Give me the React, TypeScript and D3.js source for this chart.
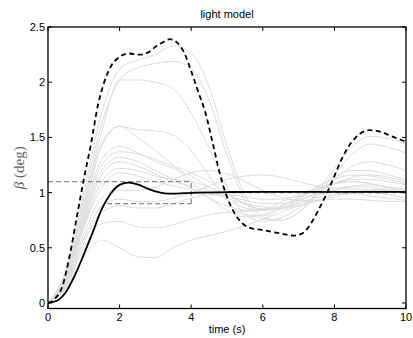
import React from "react";
import * as d3 from "d3";

const W = 413;
const H = 338;

const titleText = "light model";
const xLabelText = "time (s)";
const xTicks = [0, 2, 4, 6, 8, 10];
const yTicks = [0, 0.5, 1, 1.5, 2, 2.5];
const yTickLabels = ["0", "0.5", "1", "1.5", "2", "2.5"];

// common time grid for the grey (perturbed) responses
const tGrid = [0, 0.5, 1, 1.5, 2, 2.5, 3, 3.5, 4, 4.5, 5, 5.5, 6, 6.5, 7, 7.5, 8, 8.5, 9, 9.5, 10];

const g1 = [0, 0.30, 1.0, 1.72, 2.12, 2.20, 2.25, 2.33, 2.26, 1.96, 1.42, 0.98, 0.78, 0.75, 0.82, 1.0, 1.22, 1.42, 1.51, 1.49, 1.44];
const g2 = [0, 0.28, 0.95, 1.62, 2.02, 2.13, 2.17, 2.19, 2.12, 1.84, 1.34, 0.93, 0.76, 0.75, 0.82, 0.97, 1.16, 1.35, 1.44, 1.41, 1.36];
const g3 = [0, 0.26, 0.90, 1.55, 2.02, 2.02, 2.0, 1.94, 1.72, 1.40, 1.05, 0.80, 0.74, 0.77, 0.86, 0.98, 1.12, 1.24, 1.28, 1.25, 1.2];
const g4 = [0, 0.24, 0.84, 1.42, 1.6, 1.57, 1.56, 1.52, 1.38, 1.15, 0.93, 0.8, 0.79, 0.85, 0.94, 1.04, 1.14, 1.2, 1.2, 1.16, 1.12];
const g5 = [0, 0.24, 0.85, 1.45, 1.6, 1.5, 1.38, 1.25, 1.1, 0.95, 0.84, 0.78, 0.8, 0.87, 0.96, 1.05, 1.12, 1.16, 1.15, 1.12, 1.08];
const g6 = [0, 0.22, 0.80, 1.30, 1.42, 1.36, 1.28, 1.22, 1.15, 1.05, 0.94, 0.86, 0.84, 0.88, 0.95, 1.02, 1.08, 1.12, 1.12, 1.1, 1.07];
const g7 = [0, 0.21, 0.78, 1.25, 1.37, 1.35, 1.3, 1.24, 1.18, 1.1, 1.0, 0.9, 0.85, 0.86, 0.92, 1.0, 1.08, 1.14, 1.16, 1.14, 1.1];
const g8 = [0, 0.20, 0.75, 1.2, 1.32, 1.28, 1.2, 1.12, 1.04, 0.95, 0.88, 0.84, 0.85, 0.91, 0.98, 1.04, 1.08, 1.1, 1.08, 1.05, 1.02];
const g9 = [0, 0.20, 0.72, 1.16, 1.28, 1.24, 1.17, 1.1, 1.06, 1.02, 0.97, 0.93, 0.9, 0.9, 0.93, 0.98, 1.03, 1.06, 1.07, 1.05, 1.03];
const g10 = [0, 0.19, 0.70, 1.1, 1.22, 1.2, 1.15, 1.12, 1.1, 1.05, 0.98, 0.9, 0.85, 0.85, 0.9, 0.96, 1.02, 1.05, 1.05, 1.02, 0.99];
const g11 = [0, 0.18, 0.68, 1.05, 1.18, 1.15, 1.1, 1.06, 1.03, 1.0, 0.95, 0.9, 0.87, 0.86, 0.88, 0.93, 0.98, 1.0, 1.0, 0.98, 0.95];
const g12 = [0, 0.17, 0.62, 0.95, 1.02, 1.02, 1.05, 1.12, 1.18, 1.2, 1.17, 1.1, 1.02, 0.96, 0.93, 0.93, 0.96, 1.0, 1.02, 1.02, 1.0];
const g13 = [0, 0.16, 0.58, 0.88, 0.94, 0.92, 0.92, 0.95, 1.0, 1.06, 1.12, 1.15, 1.16, 1.14, 1.1, 1.06, 1.04, 1.03, 1.03, 1.02, 1.01];
const g14 = [0, 0.15, 0.55, 0.82, 0.88, 0.86, 0.86, 0.9, 0.95, 0.98, 0.98, 0.96, 0.94, 0.94, 0.97, 1.02, 1.08, 1.1, 1.08, 1.04, 1.0];
const g15 = [0, 0.14, 0.50, 0.72, 0.74, 0.69, 0.68, 0.71, 0.76, 0.8, 0.82, 0.83, 0.84, 0.86, 0.9, 0.95, 0.98, 0.99, 0.97, 0.95, 0.93];
const g16 = [0, 0.13, 0.42, 0.57, 0.5, 0.42, 0.41, 0.5, 0.57, 0.61, 0.65, 0.7, 0.76, 0.82, 0.88, 0.92, 0.94, 0.94, 0.93, 0.92, 0.92];
const greySeries = [g1, g2, g3, g4, g5, g6, g7, g8, g9, g10, g11, g12, g13, g14, g15, g16];

// nominal response (black solid)
const tNominal = [0, 0.25, 0.5, 0.75, 1, 1.25, 1.5, 1.75, 2, 2.25, 2.5, 2.75, 3, 3.25, 3.5, 4, 5, 6, 7, 8, 9, 10];
const nominal = [0, 0.02, 0.1, 0.25, 0.44, 0.64, 0.85, 0.99, 1.07, 1.09, 1.075, 1.04, 1.01, 0.993, 0.99, 0.998, 1.005, 1.007, 1.007, 1.006, 1.006, 1.006];

// worst case response (black dashed)
const tWorst = [0, 0.2, 0.4, 0.6, 0.8, 1.0, 1.2, 1.4, 1.55, 1.75, 2, 2.25, 2.55, 2.8, 3, 3.2, 3.4, 3.6, 3.8, 4, 4.2, 4.4, 4.6, 4.8, 5.0, 5.2, 5.4, 5.6, 6.0, 6.5, 6.85, 7.1, 7.4, 7.6, 7.8, 8.0, 8.2, 8.4, 8.6, 8.8, 9.0, 9.3, 9.6, 10];
const worst = [0, 0.04, 0.15, 0.42, 0.77, 1.12, 1.44, 1.8, 1.98, 2.14, 2.23, 2.26, 2.25, 2.27, 2.32, 2.36, 2.39, 2.36, 2.27, 2.1, 1.91, 1.72, 1.45, 1.17, 0.96, 0.82, 0.73, 0.685, 0.66, 0.63, 0.61, 0.63, 0.75, 0.87, 1.0, 1.15, 1.3, 1.42, 1.5, 1.55, 1.565, 1.55, 1.51, 1.46];

// specification envelope (grey dashed)
const specUpper = { t0: 0, t1: 4, v: 1.1 };
const specLower = { t0: 1.65, t1: 4, v: 0.9 };
const specFinal = { t0: 4, t1: 10, v: 1.0 };

export default function App() {
  const left = 48, right = 406, top = 27, bottom = 308.5;
  const x = d3.scaleLinear().domain([0, 10]).range([left, right]);
  const y = d3.scaleLinear().domain([-0.05, 2.5]).range([bottom, top]);

  const mkLine = (ts: number[]) =>
    d3.line<number>()
      .x((_, i) => x(ts[i]))
      .y((d) => y(d))
      .curve(d3.curveMonotoneX);

  const greyLine = mkLine(tGrid);
  const nomLine = mkLine(tNominal);
  const worstLine = mkLine(tWorst);

  const font = "'Liberation Sans', Arial, Helvetica, sans-serif";
  const tickLen = 4;

  return (
    <svg width={W} height={H} style={{ position: "absolute", left: 0, top: 0, background: "#fff" }}>
      <rect x={0} y={0} width={W} height={H} fill="#fff" />
      <defs>
        <clipPath id="plotclip">
          <rect x={left} y={top} width={right - left} height={bottom - top} />
        </clipPath>
      </defs>
      <g clipPath="url(#plotclip)">
        {greySeries.map((s, i) => (
          <path key={i} d={greyLine(s) || ""} fill="none" stroke="#dcdcdc" strokeWidth={1} />
        ))}
        <g stroke="#8c8c8c" strokeWidth={1.3} strokeDasharray="5,3" fill="none">
          <line x1={x(specUpper.t0)} x2={x(specUpper.t1)} y1={y(specUpper.v)} y2={y(specUpper.v)} />
          <line x1={x(specLower.t0)} x2={x(specLower.t1)} y1={y(specLower.v)} y2={y(specLower.v)} />
          <line x1={x(specUpper.t1)} x2={x(specUpper.t1)} y1={y(specLower.v)} y2={y(specUpper.v)} />
          <line x1={x(specFinal.t0)} x2={x(specFinal.t1)} y1={y(specFinal.v)} y2={y(specFinal.v)} />
        </g>
        <path d={worstLine(worst) || ""} fill="none" stroke="#000" strokeWidth={1.8} strokeDasharray="5,3.5" />
        <path d={nomLine(nominal) || ""} fill="none" stroke="#000" strokeWidth={1.8} />
      </g>
      {/* axes box */}
      <rect x={left} y={top} width={right - left} height={bottom - top} fill="none" stroke="#000" strokeWidth={1.3} />
      {xTicks.map((t) => (
        <g key={"xt" + t}>
          <line x1={x(t)} x2={x(t)} y1={bottom} y2={bottom - tickLen} stroke="#000" strokeWidth={1} />
          <line x1={x(t)} x2={x(t)} y1={top} y2={top + tickLen} stroke="#000" strokeWidth={1} />
          <text x={x(t)} y={321} textAnchor="middle" fontFamily={font} fontSize={11} fill="#000">{t}</text>
        </g>
      ))}
      {yTicks.map((v, i) => (
        <g key={"yt" + v}>
          <line x1={left} x2={left + tickLen} y1={y(v)} y2={y(v)} stroke="#000" strokeWidth={1} />
          <line x1={right} x2={right - tickLen} y1={y(v)} y2={y(v)} stroke="#000" strokeWidth={1} />
          <text x={45} y={y(v) + 4} textAnchor="end" fontFamily={font} fontSize={11} fill="#000">{yTickLabels[i]}</text>
        </g>
      ))}
      <text x={(left + right) / 2} y={18} textAnchor="middle" fontFamily={font} fontSize={11} fill="#000">{titleText}</text>
      <text x={(left + right) / 2} y={333} textAnchor="middle" fontFamily={font} fontSize={11} fill="#000">{xLabelText}</text>
      <text transform={`translate(24,${(top + bottom) / 2}) rotate(-90)`} textAnchor="middle" fontFamily="'Liberation Serif', 'DejaVu Serif', serif" fontSize={15} fill="#666">
        <tspan fontStyle="italic">β</tspan>
        <tspan> (deg)</tspan>
      </text>
    </svg>
  );
}
